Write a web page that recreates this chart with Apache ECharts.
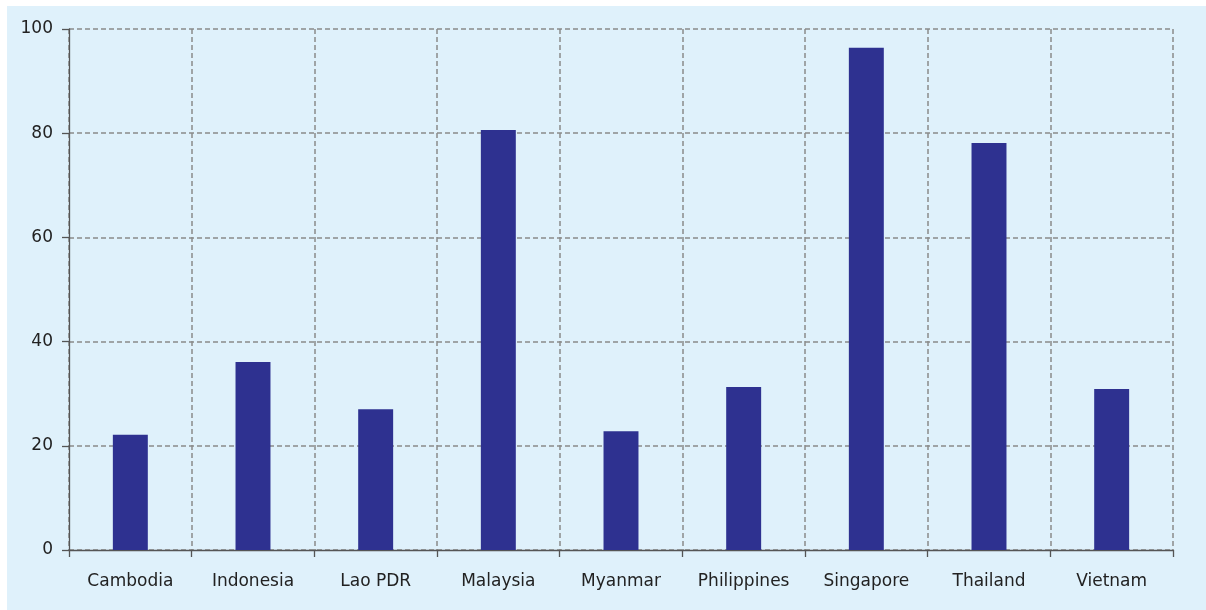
<!DOCTYPE html>
<html>
<head>
<meta charset="utf-8">
<script src="https://cdn.jsdelivr.net/npm/echarts@6/dist/echarts.min.js"></script>
<style>
    html, body { margin: 0; padding: 0; background: #fff; }
    #chart { position: absolute; left: 7px; top: 6px; width: 1199px; height: 604px; }
</style>
</head>
<body>
<div id="chart"></div>
<script>
// countries and values
const countries = ['Cambodia', 'Indonesia', 'Lao PDR', 'Malaysia', 'Myanmar', 'Philippines', 'Singapore', 'Thailand', 'Vietnam']
const values = [22.1, 36.1, 27.0, 80.6, 22.8, 31.3, 96.4, 78.1, 30.9]
const yTicks = [0, 20, 40, 60, 80, 100]

const gridDash = {
    show: true,
    lineStyle: { color: '#8a8a8a', width: 1.5, type: [5, 3] }
}
const axisFont = { color: '#222', fontSize: 17, fontFamily: 'DejaVu Sans' }

const myChart = echarts.init(document.getElementById('chart'))
myChart.setOption({
    animation: false,
    backgroundColor: '#dff1fb',
    grid: { left: 62, right: 33, top: 23, bottom: 60, containLabel: false },
    xAxis: {
        type: 'category',
        data: countries,
        boundaryGap: true,
        axisLine: { lineStyle: { color: '#555', width: 1.3 } },
        axisTick: { show: true, length: 7, lineStyle: { color: '#555', width: 1.3 } },
        axisLabel: Object.assign({ margin: 23, interval: 0 }, axisFont),
        splitLine: gridDash
    },
    yAxis: {
        type: 'value',
        min: yTicks[0],
        max: yTicks[yTicks.length - 1],
        interval: yTicks[1] - yTicks[0],
        axisLine: { show: true, lineStyle: { color: '#555', width: 1.3 } },
        axisTick: { show: true, length: 7, lineStyle: { color: '#555', width: 1.3 } },
        axisLabel: Object.assign({ margin: 16 }, axisFont),
        splitLine: gridDash
    },
    series: [{
        type: 'bar',
        data: values,
        barWidth: '28.5%',
        itemStyle: { color: '#2e3190' }
    }]
})
</script>
</body>
</html>
